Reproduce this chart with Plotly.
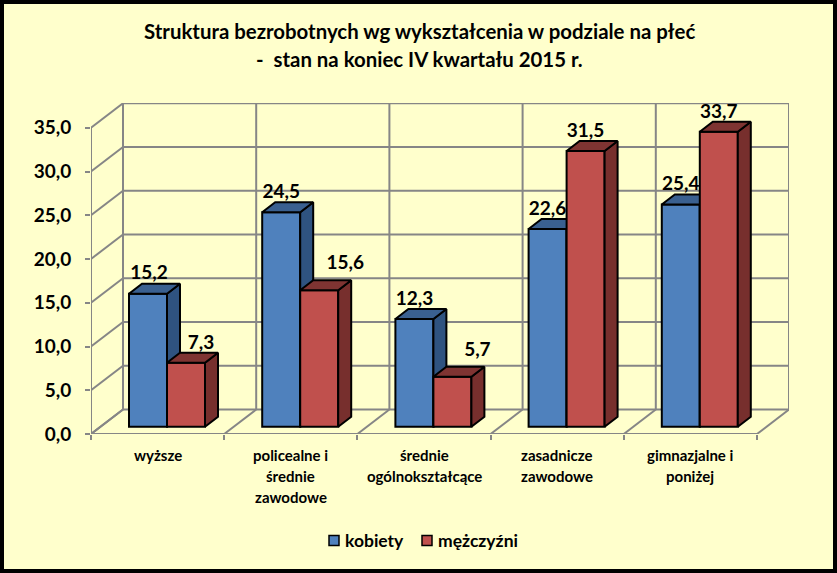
import plotly.graph_objects as go

categories = ["wyższe", "policealne i<br>średnie<br>zawodowe", "średnie<br>ogólnokształcące",
              "zasadnicze<br>zawodowe", "gimnazjalne i<br>poniżej"]
kobiety = [15.2, 24.5, 12.3, 22.6, 25.4]
mezczyzni = [7.3, 15.6, 5.7, 31.5, 33.7]
y_ticks = [0, 5, 10, 15, 20, 25, 30, 35]

# plot area in pixels
W, H = 837, 573
LEFT, RIGHT, TOP, BOTTOM = 91, 48, 103, 139
X_UNIT = 133.2   # px per category
Y_UNIT = 8.75    # px per value unit

# depth of the chart box and of the bars, in axis units
BOX_DX, BOX_DY = 32 / X_UNIT, 24.5 / Y_UNIT
BAR_DX, BAR_DY = 13 / X_UNIT, 10 / Y_UNIT
BASE = 7.3 / Y_UNIT
BAR_W = 38 / X_UNIT
BAR_OFF = 38 / X_UNIT
LABEL_UP = 19 / Y_UNIT

# some labels were dragged aside in the original, (px right, px up)
kobiety_nudge = [(1, 0), (0, 0), (0, 0), (0, 0), (0, 0)]
mezczyzni_nudge = [(15, 0), (26, 7), (25, 7), (0, 0), (0, 0)]

x_range = [0, (W - LEFT - RIGHT) / X_UNIT]
y_range = [0, (H - TOP - BOTTOM) / Y_UNIT]
plot_w = W - LEFT - RIGHT
plot_h = H - TOP - BOTTOM

FONT = "Lato"
GRID = "#868686"


def paper_x(px):
    return (px - LEFT) / plot_w


def paper_y(px):
    return (H - BOTTOM - px) / plot_h


def grid_line(x0, y0, x1, y1):
    return dict(type="line", xref="x", yref="y", x0=x0, y0=y0, x1=x1, y1=y1,
                line=dict(color=GRID, width=2), layer="below")


shapes = [dict(type="rect", xref="paper", yref="paper", x0=paper_x(0), x1=paper_x(W),
               y0=paper_y(H), y1=paper_y(0), fillcolor="#FFFFCC",
               line=dict(color="black", width=8), layer="below")]
n = len(categories)
top = y_ticks[-1]
for v in y_ticks:
    shapes.append(grid_line(0, v, BOX_DX, v + BOX_DY))
    shapes.append(grid_line(BOX_DX, v + BOX_DY, n + BOX_DX, v + BOX_DY))
for i in range(n + 1):
    shapes.append(grid_line(i, 0, i + BOX_DX, BOX_DY))
    shapes.append(grid_line(i + BOX_DX, BOX_DY, i + BOX_DX, top + BOX_DY))
shapes.append(grid_line(0, 0, n, 0))
shapes.append(grid_line(0, 0, 0, top))


def add_series(fig, name, values, offset, front, side, roof, xaxis, yaxis):
    xs = list(range(n))
    fig.add_trace(go.Bar(x=xs, y=values, base=BASE, offset=offset, width=BAR_W, name=name,
                         marker=dict(color=front, line=dict(color="black", width=2)),
                         showlegend=False, hoverinfo="skip", xaxis=xaxis, yaxis=yaxis))
    side_x, side_y, roof_x, roof_y = [], [], [], []
    for x, v in zip(xs, values):
        l = x + offset
        r = l + BAR_W
        t = BASE + v
        side_x += [r, r + BAR_DX, r + BAR_DX, r, r, None]
        side_y += [BASE, BASE + BAR_DY, t + BAR_DY, t, BASE, None]
        roof_x += [l, l + BAR_DX, r + BAR_DX, r, l, None]
        roof_y += [t, t + BAR_DY, t + BAR_DY, t, t, None]
    fig.add_trace(go.Scatter(x=side_x, y=side_y, mode="lines", fill="toself", fillcolor=side,
                             line=dict(color="black", width=2), showlegend=False,
                             hoverinfo="skip", xaxis=xaxis, yaxis=yaxis))
    fig.add_trace(go.Scatter(x=roof_x, y=roof_y, mode="lines", fill="toself", fillcolor=roof,
                             line=dict(color="black", width=2), showlegend=False,
                             hoverinfo="skip", xaxis=xaxis, yaxis=yaxis))


fig = go.Figure()
add_series(fig, "kobiety", kobiety, BAR_OFF, "#4F81BD", "#2F5380", "#3A6090", "x", "y")
add_series(fig, "mężczyźni", mezczyzni, BAR_OFF * 2, "#C0504D", "#772F2D", "#7F3432", "x2", "y2")

# value labels go on the top layer
for values, offset, nudge in [(kobiety, BAR_OFF, kobiety_nudge), (mezczyzni, BAR_OFF * 2, mezczyzni_nudge)]:
    fig.add_trace(go.Scatter(
        x=[i + offset + BAR_W / 2 + nudge[i][0] / X_UNIT for i in range(n)],
        y=[BASE + v + LABEL_UP + nudge[i][1] / Y_UNIT for i, v in enumerate(values)],
        text=[f"{v:.1f}".replace(".", ",") for v in values],
        mode="text", textposition="middle center",
        textfont=dict(family=FONT, size=19, color="black", weight=700),
        showlegend=False, hoverinfo="skip", xaxis="x2", yaxis="y2"))

annotations = []
for text, py in [("Struktura bezrobotnych wg wykształcenia w podziale na płeć", 31),
                 ("-  stan na koniec IV kwartału 2015 r.", 59)]:
    annotations.append(dict(text=text, xref="paper", yref="paper", x=paper_x(419), y=paper_y(py),
                            showarrow=False, xanchor="center", yanchor="middle",
                            font=dict(family=FONT, size=20.4, color="black", weight=700)))
for i, cat in enumerate(categories):
    for j, line in enumerate(cat.split("<br>")):
        annotations.append(dict(text=line, xref="x", yref="paper", x=i + 0.5, y=paper_y(455 + j * 21),
                                showarrow=False, xanchor="center", yanchor="middle",
                                font=dict(family=FONT, size=15, color="black", weight=700)))

# legend, plotly's own cannot get the swatch this close to the text
for name, color, sx, tx in [("kobiety", "#4F81BD", 329, 344), ("mężczyźni", "#C0504D", 422, 437)]:
    shapes.append(dict(type="rect", xref="paper", yref="paper", x0=paper_x(sx), x1=paper_x(sx + 10),
                       y0=paper_y(545.5), y1=paper_y(535.5), fillcolor=color,
                       line=dict(color="black", width=1.5)))
    annotations.append(dict(text=name, xref="paper", yref="paper", x=paper_x(tx), y=paper_y(540),
                            showarrow=False, xanchor="left", yanchor="middle", xshift=-1,
                            font=dict(family=FONT, size=17.5, color="black", weight=700)))

fig.update_layout(
    width=W, height=H,
    margin=dict(l=LEFT, r=RIGHT, t=TOP, b=BOTTOM),
    paper_bgcolor="#FFFFCC",
    plot_bgcolor="rgba(0,0,0,0)",
    separators=", ",
    shapes=shapes,
    annotations=annotations,
    showlegend=False,
    font=dict(family=FONT, color="black"),
    xaxis=dict(range=x_range, tickvals=[], showgrid=False, zeroline=False, showline=False,
               minor=dict(tickvals=list(range(n + 1)), ticks="outside", ticklen=5, tickwidth=2,
                          tickcolor=GRID, showgrid=False)),
    yaxis=dict(range=y_range, tickvals=y_ticks, tickformat=".1f", ticks="outside", ticklen=5, tickwidth=2,
               tickcolor=GRID, showgrid=False, zeroline=False, showline=False, ticklabelstandoff=10,
               tickfont=dict(family=FONT, size=19, color="black", weight=700)),
    xaxis2=dict(range=x_range, overlaying="x", visible=False),
    yaxis2=dict(range=y_range, overlaying="y", visible=False),
)

fig.write_html("out.html", config={"displayModeBar": False},
               post_script="document.body.style.margin='0';document.body.style.overflow='hidden';")
